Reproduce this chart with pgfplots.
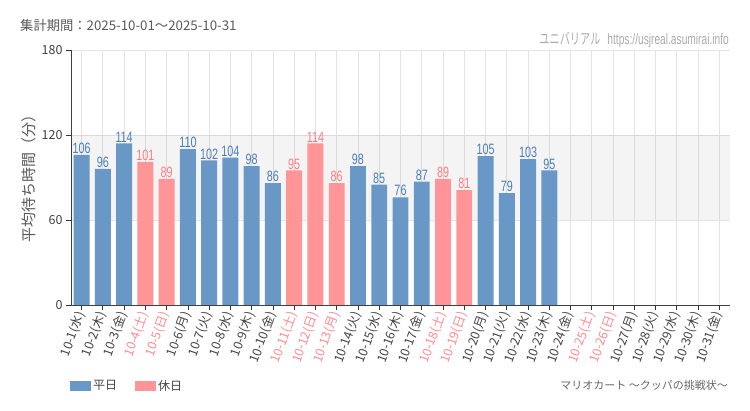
\documentclass[border=0pt]{standalone}
\usepackage{fontspec}
\usepackage{pgfplots}
\pgfplotsset{compat=1.18}
\setmainfont{Noto Sans CJK JP}
\newfontfamily\cond[FakeStretch=0.72]{Liberation Sans}
\newfontfamily\condurl[FakeStretch=0.68]{Liberation Sans}
\newfontfamily\condjp[FakeStretch=0.68]{Noto Sans CJK JP}
\definecolor{wd}{HTML}{6A98C6}
\definecolor{hd}{HTML}{FF9597}
\definecolor{wdt}{HTML}{4A7FB8}
\definecolor{hdt}{HTML}{FF7B82}
\definecolor{hdl}{HTML}{FF8A90}
\definecolor{txt}{HTML}{444444}
\definecolor{gridc}{HTML}{E4E4E4}
\begin{document}
\begin{tikzpicture}
\path (0pt,0pt) rectangle (750pt,410pt);
\begin{axis}[
  at={(71pt,105pt)}, anchor=south west,
  scale only axis, width=659pt, height=255pt,
  xmin=-0.5, xmax=30.5, ymin=0, ymax=180,
  set layers,
  /pgf/number format/assume math mode=true,
  axis x line*=bottom, axis y line*=left,
  axis line style={-, draw=black!75, line width=0.8pt},
  ytick={0,60,120,180}, xtick={0,...,30},
  xticklabels={10-1(水),10-2(木),10-3(金),{\color{hdl}10-4(土)},{\color{hdl}10-5(日)},10-6(月),10-7(火),10-8(水),10-9(木),10-10(金),{\color{hdl}10-11(土)},{\color{hdl}10-12(日)},{\color{hdl}10-13(月)},10-14(火),10-15(水),10-16(木),10-17(金),{\color{hdl}10-18(土)},{\color{hdl}10-19(日)},10-20(月),10-21(火),10-22(水),10-23(木),10-24(金),{\color{hdl}10-25(土)},{\color{hdl}10-26(日)},10-27(月),10-28(火),10-29(水),10-30(木),10-31(金)},
  ymajorgrids, xmajorgrids, grid style={draw=gridc, line width=0.8pt},
  tick style={draw=black!80, line width=0.8pt}, tick align=outside, major tick length=5pt,
  xticklabel style={rotate=70, anchor=east, font=\fontsize{12.5}{12.5}\selectfont, text=txt, inner sep=2.5pt},
  yticklabel style={font=\fontsize{12.5}{12.5}\selectfont, text=black!75},
  ylabel={平均待ち時間（分）},
  ylabel style={at={(axis description cs:-0.0637,0.51)}, anchor=center, font=\fontsize{15}{15}\selectfont, text=black!65},
  legend style={at={(axis description cs:-0.006,-0.318)}, anchor=west, draw=none, fill=none, legend columns=2, font=\fontsize{12}{12}\selectfont, text=txt, /tikz/every even column/.append style={column sep=16pt}},
  legend image code/.code={\fill[#1] (0pt,-5pt) rectangle (21pt,5pt);},
  nodes near coords,
  every node near coord/.append style={font=\cond\fontsize{15}{15}\selectfont, inner sep=1pt},
]
\fill[black, fill opacity=0.045] (axis cs:-0.5,60) rectangle (axis cs:30.5,120);
\addplot[ybar, bar width=0.75, bar shift=0pt, fill=wd, draw=none, every node near coord/.append style={text=wdt}]
 coordinates {(0,106)(1,96)(2,114)(5,110)(6,102)(7,104)(8,98)(9,86)(13,98)(14,85)(15,76)(16,87)(19,105)(20,79)(21,103)(22,95)};
\addplot[ybar, bar width=0.75, bar shift=0pt, fill=hd, draw=none, every node near coord/.append style={text=hdt}]
 coordinates {(3,101)(4,89)(10,95)(11,114)(12,86)(17,89)(18,81)};
\legend{平日,休日}
\end{axis}
\node[anchor=base west, inner sep=0pt, font=\fontsize{13.3}{13.3}\selectfont, text=black!65] at (20pt,379pt) {集計期間：2025-10-01～2025-10-31};
\node[anchor=base east, inner sep=0pt, font=\fontsize{15}{15}\selectfont, text=black!33] at (729pt,365pt) {\condjp ユニバリアル\hspace{7pt}\condurl https://usjreal.asumirai.info};
\node[anchor=base east, inner sep=0pt, font=\fontsize{11}{11}\selectfont, text=black!60] at (728pt,20pt) {マリオカート ～クッパの挑戦状～};
\end{tikzpicture}
\end{document}
